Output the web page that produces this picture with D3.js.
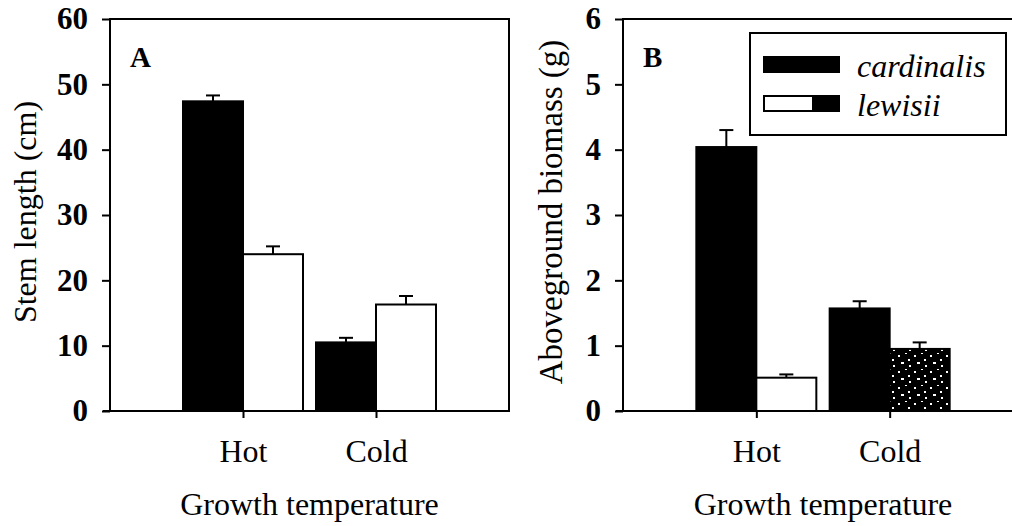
<!DOCTYPE html>
<html>
<head>
<meta charset="utf-8">
<script src="https://cdn.jsdelivr.net/npm/d3@7"></script>
<style>
  body { margin: 0; background: #fff; }
  svg { display: block; }
  text { font-family: "Liberation Serif", "Times New Roman", serif; fill: #000; }
</style>
</head>
<body>
<div id="chart"></div>
<script>
// data
const categories = ["Hot", "Cold"];
const species = ["cardinalis", "lewisii"];

const stemCardinalis = [47.4, 10.5];
const stemCardinalisSE = [0.9, 0.7];
const stemLewisii = [24.0, 16.3];
const stemLewisiiSE = [1.2, 1.3];
const stemTicks = [0, 10, 20, 30, 40, 50, 60];

const massCardinalis = [4.04, 1.57];
const massCardinalisSE = [0.26, 0.11];
const massLewisii = [0.51, 0.95];
const massLewisiiSE = [0.05, 0.10];
const massTicks = [0, 1, 2, 3, 4, 5, 6];

const width = 1012, height = 526;

const svg = d3.select('#chart').append('svg')
  .attr('width', width)
  .attr('height', height);

// speckle texture the scan gives the cold lewisii bar in panel B
const defs = svg.append('defs');
const pat = defs.append('pattern')
  .attr('id', 'speckle')
  .attr('patternUnits', 'userSpaceOnUse')
  .attr('width', 16).attr('height', 16);
pat.append('rect').attr('width', 16).attr('height', 16).attr('fill', '#000');
[[2, 3, 2, 2], [9, 1, 2, 1], [12, 7, 2, 2], [5, 10, 3, 2], [13, 13, 2, 2]]
  .forEach(r => pat.append('rect')
    .attr('x', r[0]).attr('y', r[1]).attr('width', r[2]).attr('height', r[3])
    .attr('fill', '#fff'));

function rows(cardinalis, cardSE, lewisii, lewSE) {
  const out = [];
  categories.forEach((c, i) => {
    out.push({ cat: c, sp: 'cardinalis', v: cardinalis[i], se: cardSE[i] });
    out.push({ cat: c, sp: 'lewisii', v: lewisii[i], se: lewSE[i] });
  });
  return out;
}

function panel(opts) {
  const { left, right, top, bottom, max, ticks, data, ylabel, letter, titleX, titleSize } = opts;

  const x = d3.scalePoint().domain(categories).range([left, right]).padding(1);
  const sub = d3.scaleBand().domain(species).range([-60, 60]);
  const y = d3.scaleLinear().domain([0, max]).range([bottom, top]);

  const g = svg.append('g');

  // bars
  g.append('g').selectAll('rect')
    .data(data)
    .join('rect')
    .attr('x', d => x(d.cat) + sub(d.sp))
    .attr('y', d => y(d.v))
    .attr('width', sub.bandwidth())
    .attr('height', d => y(0) - y(d.v))
    .attr('fill', d => d.sp === 'cardinalis' ? '#000' : (d.fill || '#fff'))
    .attr('stroke', '#000')
    .attr('stroke-width', 2);

  // error bars (upper only)
  const eb = g.append('g').selectAll('g')
    .data(data)
    .join('g')
    .attr('transform', d => `translate(${x(d.cat) + sub(d.sp) + sub.bandwidth() / 2},0)`);
  eb.append('line')
    .attr('y1', d => y(d.v)).attr('y2', d => y(d.v + d.se))
    .attr('stroke', '#000').attr('stroke-width', 2);
  eb.append('line')
    .attr('x1', -7).attr('x2', 7)
    .attr('y1', d => y(d.v + d.se)).attr('y2', d => y(d.v + d.se))
    .attr('stroke', '#000').attr('stroke-width', 2);

  // frame
  g.append('rect')
    .attr('x', left).attr('y', top)
    .attr('width', right - left).attr('height', bottom - top)
    .attr('fill', 'none').attr('stroke', '#000').attr('stroke-width', 2);

  // y axis
  const ya = g.append('g')
    .attr('transform', `translate(${left},0)`)
    .call(d3.axisLeft(y).tickValues(ticks).tickSize(8).tickSizeOuter(0).tickPadding(14).tickFormat(d3.format('d')));
  ya.select('.domain').remove();
  ya.selectAll('line').attr('stroke-width', 2);
  ya.selectAll('text')
    .attr('font-family', '"Liberation Serif", serif')
    .attr('font-size', 31).attr('font-weight', 'bold');

  // x axis
  const xa = g.append('g')
    .attr('transform', `translate(0,${bottom})`)
    .call(d3.axisBottom(x).tickSize(7).tickSizeOuter(0));
  xa.select('.domain').attr('stroke-width', 2).attr('d', `M${left - 7},0H${right}`);
  xa.selectAll('line').attr('stroke-width', 2);
  xa.selectAll('text')
    .attr('y', 51).attr('dy', null)
    .attr('font-family', '"Liberation Serif", serif')
    .attr('font-size', 32);

  g.append('text')
    .attr('x', (left + right) / 2).attr('y', 515)
    .attr('text-anchor', 'middle')
    .attr('font-size', 32)
    .text('Growth temperature');

  g.append('text')
    .attr('transform', `translate(${titleX},${(top + bottom) / 2 - 3}) rotate(-90)`)
    .attr('text-anchor', 'middle')
    .attr('font-size', titleSize)
    .text(ylabel);

  g.append('text')
    .attr('x', left + 20).attr('y', 67)
    .attr('font-size', 29).attr('font-weight', 'bold')
    .text(letter);

  return { x, y, g };
}

panel({
  left: 110, right: 509, top: 19, bottom: 411, max: 60, ticks: stemTicks,
  data: rows(stemCardinalis, stemCardinalisSE, stemLewisii, stemLewisiiSE),
  ylabel: 'Stem length (cm)', letter: 'A', titleX: 36, titleSize: 32
});

const massData = rows(massCardinalis, massCardinalisSE, massLewisii, massLewisiiSE);
massData.find(d => d.cat === 'Cold' && d.sp === 'lewisii').fill = 'url(#speckle)';

panel({
  left: 623, right: 1023, top: 19, bottom: 411, max: 6, ticks: massTicks,
  data: massData,
  ylabel: 'Aboveground biomass (g)', letter: 'B', titleX: 562, titleSize: 33
});

// legend
const lg = svg.append('g');
lg.append('rect')
  .attr('x', 750).attr('y', 33).attr('width', 256).attr('height', 102)
  .attr('fill', '#fff').attr('stroke', '#000').attr('stroke-width', 2);
const items = lg.selectAll('g.item')
  .data(species)
  .join('g')
  .attr('class', 'item')
  .attr('transform', (d, i) => `translate(0,${i * 39})`);
items.append('rect')
  .attr('x', 764).attr('y', 57).attr('width', 75).attr('height', 15)
  .attr('fill', d => d === 'cardinalis' ? '#000' : '#fff')
  .attr('stroke', '#000').attr('stroke-width', 2);
items.filter(d => d === 'lewisii').append('rect')
  .attr('x', 812).attr('y', 57).attr('width', 27).attr('height', 15)
  .attr('fill', '#000');
items.append('text')
  .attr('x', 857).attr('y', 77)
  .attr('font-size', 32).attr('font-style', 'italic')
  .text(d => d);
</script>
</body>
</html>
